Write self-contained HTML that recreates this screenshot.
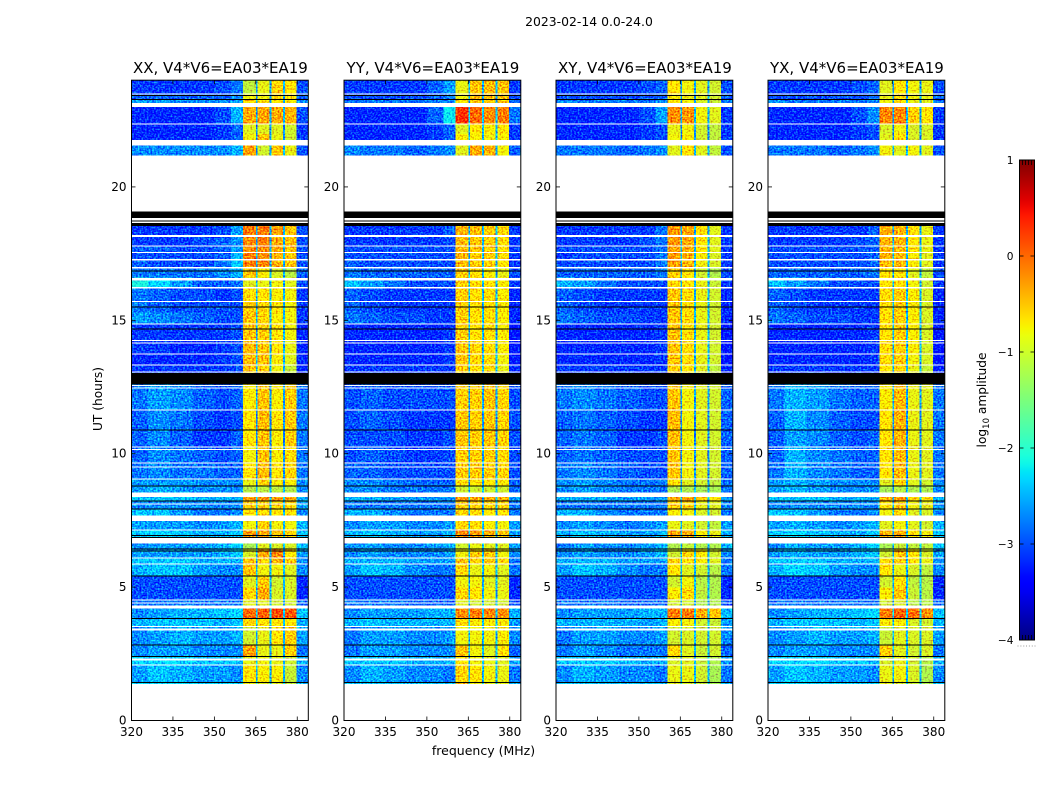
<!DOCTYPE html>
<html lang="en">
<head>
<meta charset="utf-8">
<title>2023-02-14 0.0-24.0</title>
<style>
html,body{margin:0;padding:0;background:#fff;}
svg{display:block;}
text{font-family:"DejaVu Sans","Liberation Sans",sans-serif;fill:#000;}
</style>
</head>
<body>
<svg id="chart" xmlns="http://www.w3.org/2000/svg" width="1050" height="800" viewBox="0 0 1050 800">
  <defs id="defs"></defs>
  <text x="589" y="26" font-size="12.4" text-anchor="middle">2023-02-14 0.0-24.0</text>
  <text x="483.5" y="755" font-size="12.5" text-anchor="middle">frequency (MHz)</text>
  <text x="0" y="0" font-size="12.2" text-anchor="middle" transform="translate(102 399) rotate(-90)">UT (hours)</text>
  <text x="0" y="0" font-size="12.2" text-anchor="middle" transform="translate(986 400) rotate(-90)">log<tspan font-size="8.5" dy="3">10</tspan><tspan dy="-3"> amplitude</tspan></text>
  <g id="panels"></g>
  <g id="colorbar"></g>
</svg>
<script>
// Frequency section edges (MHz) and which value column feeds each section
const freqEdges = [320,326,334,342,350,356,360.4,365,365.6,370,370.6,374.9,375.5,379.7,384];
const sectionColumn = [0,1,2,3,4,5,6,11,7,11,8,11,9,10];

// UT row edges (hours), top to bottom
const utEdges = [24,23.47,23.29,22.99,22.35,21.99,21.75,21.18,18.53,18.13,17.81,17.55,17.25,16.95,16.61,16.24,15.71,15.3,14.85,14.25,13.72,13.31,13.02,12.59,11.66,10.91,10.24,9.67,9.07,8.78,8.55,8.21,7.95,7.69,7.13,6.86,6.45,6.11,5.85,5.44,4.99,4.54,4.2,3.84,3.53,2.85,2.4,2.1,1.43,1.375];

// Flagged rows shared by all panels: [UT start, UT end]
const whiteBands = [[23.475,23.51],[22.99,23.14],[22.35,22.385],[21.56,21.75],[18.13,18.19],[17.775,17.81],[17.53,17.57],[17.25,17.29],[16.95,16.99],[16.5,16.59],[16.2,16.24],[15.69,15.73],[14.85,14.89],[14.23,14.27],[14.14,14.175],[13.725,13.76],[13.31,13.35],[13.05,13.09],[12.55,12.58],[12.45,12.49],[11.625,11.66],[10.24,10.275],[10.14,10.18],[9.64,9.675],[9.49,9.525],[9.04,9.075],[8.37,8.55],[8.10,8.14],[7.47,7.69],[7.125,7.16],[6.64,6.84],[6.075,6.11],[5.85,5.89],[4.5,4.54],[4.39,4.425],[4.2,4.31],[3.51,3.54],[3.375,3.45],[2.25,2.325],[2.06,2.1]];
const blackBands = [[23.4,23.44],[23.25,23.29],[18.84,19.08],[18.71,18.75],[18.53,18.64],[16.84,16.865],[15.49,15.525],[14.66,14.7],[12.59,13.02],[10.875,10.91],[8.78,8.81],[8.21,8.25],[7.91,7.95],[6.92,6.96],[6.84,6.88],[6.41,6.45],[6.34,6.375],[5.4,5.44],[3.81,3.84],[2.81,2.85],[2.38,2.42],[1.41,1.44]];

// log10 amplitude per row: 320-326,326-334,334-342,342-350,350-356,356-360.4, block A,B,C,D, 380-384, notch
const amplitudeXX = [
[-3.1,-3.1,-3.1,-3.1,-3.0,-2.8,-1.1,-.85,-.6,-.7,-3.0,-2.6],
[-2.9,-2.9,-2.9,-2.9,-2.9,-2.7,-.8,-.8,-.6,-.7,-2.9,-2.6],
[-2.6,-2.6,-2.7,-2.7,-2.7,-2.6,-.6,-.7,-.7,-.75,-2.7,-2.6],
[-3.2,-3.2,-3.2,-3.2,-3.0,-2.5,-.35,-.3,-.35,-.4,-3.0,-2.5],
[-3.2,-3.2,-3.2,-3.2,-3.1,-2.9,-.9,-.9,-.9,-1.0,-3.1,-2.7],
[-3.2,-3.2,-3.2,-3.2,-3.1,-2.9,-.8,-.5,-.85,-1.0,-3.1,-2.7],
[-2.7,-2.7,-2.7,-2.7,-2.7,-2.5,-.3,-1.0,-.5,-.85,-3.0,-2.5],
null,
[-3.1,-3.1,-3.1,-3.1,-3.0,-2.6,-.1,-.1,-.3,-.5,-3.0,-2.5],
[-3.1,-3.1,-3.1,-3.0,-2.9,-2.7,-.2,-.1,-.35,-.45,-3.0,-2.5],
[-2.9,-2.9,-3.0,-3.0,-2.9,-2.6,-.2,-.2,-.35,-.5,-3.0,-2.5],
[-3.0,-3.0,-3.0,-3.0,-2.9,-2.5,-.1,-.2,-.4,-.5,-3.0,-2.5],
[-2.9,-3.0,-3.0,-3.0,-2.8,-2.4,-.15,-.15,-.4,-.5,-3.0,-2.5],
[-2.8,-2.8,-2.8,-2.8,-2.7,-2.5,-.5,-.75,-.95,-1.15,-2.9,-2.5],
[-2.1,-2.3,-2.6,-2.9,-2.9,-2.8,-.9,-.85,-.8,-.9,-3.0,-2.5],
[-2.8,-2.9,-3.0,-3.0,-3.1,-3.0,-.65,-.7,-.75,-.8,-3.1,-2.5],
[-2.8,-2.9,-3.0,-3.0,-3.0,-3.0,-.55,-.6,-.7,-.8,-3.1,-2.5],
[-2.6,-2.7,-2.8,-2.9,-3.0,-3.0,-.5,-.6,-.75,-.8,-3.1,-2.5],
[-3.1,-3.1,-3.1,-3.1,-3.1,-3.0,-.5,-.55,-.7,-.8,-3.2,-2.5],
[-3.1,-3.1,-3.2,-3.2,-3.1,-3.0,-.45,-.5,-.7,-.85,-3.2,-2.5],
[-3.2,-3.2,-3.2,-3.2,-3.1,-3.0,-.45,-.5,-.75,-.9,-3.2,-2.5],
[-3.1,-3.1,-3.1,-3.1,-3.1,-3.0,-.5,-.55,-.8,-1.05,-3.2,-2.5],
null,
[-2.8,-2.6,-2.7,-2.9,-3.0,-2.9,-.75,-.5,-.75,-.55,-2.8,-2.6],
[-2.9,-2.7,-2.8,-3.0,-3.1,-3.0,-.7,-.45,-.7,-.55,-2.8,-2.7],
[-2.9,-2.7,-2.9,-3.1,-3.1,-2.9,-.7,-.5,-.75,-.55,-2.8,-2.7],
[-2.9,-2.7,-2.8,-2.9,-3.0,-2.9,-.8,-.5,-.75,-.65,-2.8,-2.7],
[-2.8,-2.7,-2.8,-2.8,-2.9,-2.9,-.7,-.45,-.7,-.6,-2.8,-2.7],
[-2.6,-2.6,-2.6,-2.7,-2.7,-2.7,-.85,-.6,-.75,-.75,-2.7,-2.6],
[-2.6,-2.5,-2.6,-2.7,-2.7,-2.7,-1.15,-1.1,-1.1,-1.15,-2.7,-2.5],
[-2.4,-2.4,-2.4,-2.5,-2.5,-2.5,-.3,-.25,-.3,-.35,-2.5,-2.4],
[-2.7,-2.7,-2.7,-2.7,-2.7,-2.7,-.55,-.55,-.6,-.65,-2.6,-2.5],
[-2.4,-2.4,-2.6,-2.8,-2.8,-2.7,-.7,-.65,-.7,-.7,-2.7,-2.5],
[-2.6,-2.6,-2.6,-2.7,-2.6,-2.5,-.8,-.55,-.8,-.8,-2.5,-2.5],
[-2.4,-2.3,-2.4,-2.5,-2.5,-2.4,-.25,-.3,-.5,-.6,-2.4,-2.4],
[-2.7,-2.6,-2.6,-2.6,-2.5,-2.3,-1.25,-.9,-.95,-.95,-2.4,-2.5],
[-2.6,-2.6,-2.6,-2.6,-2.5,-2.4,-.95,-.35,-.15,-.7,-2.6,-2.5],
[-2.4,-2.4,-2.4,-2.5,-2.5,-2.5,-.5,-.6,-.4,-.55,-2.7,-2.5],
[-2.5,-2.4,-2.4,-2.6,-2.7,-2.7,-.5,-.8,-.8,-.9,-2.7,-2.5],
[-3.0,-3.0,-3.0,-3.0,-3.0,-3.0,-.9,-.55,-1.0,-.95,-3.2,-2.5],
[-3.0,-3.0,-3.0,-3.0,-3.0,-3.0,-.6,-.35,-.95,-.95,-3.2,-2.5],
[-2.8,-2.8,-2.8,-2.8,-2.8,-2.8,-.9,-.9,-1.0,-1.0,-2.9,-2.6],
[-2.7,-2.6,-2.5,-2.5,-2.4,-2.3,0,.05,.15,.1,-2.4,-2.3],
[-2.5,-2.4,-2.4,-2.4,-2.5,-2.4,-.6,-.7,-.7,-.7,-2.5,-2.4],
[-2.7,-2.6,-2.5,-2.6,-2.6,-2.5,-1.0,-.85,-.7,-.55,-2.6,-2.5],
[-2.7,-2.6,-2.6,-2.7,-2.7,-2.7,-.3,-.85,-.85,-.55,-2.8,-2.5],
[-2.3,-2.3,-2.3,-2.4,-2.4,-2.4,-.85,-.8,-.85,-1.0,-2.5,-2.4],
[-2.6,-2.4,-2.5,-2.6,-2.6,-2.7,-.7,-.75,-.75,-1.05,-2.7,-2.5],
[-2.3,-2.3,-2.3,-2.3,-2.3,-2.3,-.8,-.9,-.9,-1.05,-2.4,-2.4]
];
const amplitudeYY = [
[-3.1,-3.1,-3.1,-3.1,-2.9,-2.6,-.85,-.5,-.45,-.5,-3.1,-2.5],
[-3.0,-3.0,-3.0,-3.0,-2.9,-2.8,-.8,-.45,-.45,-.5,-3.0,-2.5],
[-2.8,-2.8,-2.8,-2.8,-2.8,-2.7,-.7,-.5,-.5,-.5,-2.9,-2.5],
[-3.2,-3.2,-3.2,-3.2,-2.9,-2.2,.3,.0,-.2,-.1,-2.8,-2.4],
[-3.2,-3.2,-3.2,-3.2,-3.1,-2.9,-.9,-.7,-.75,-.7,-3.1,-2.5],
[-3.2,-3.2,-3.2,-3.2,-3.1,-2.9,-.75,-.75,-.8,-.75,-3.1,-2.5],
[-2.7,-2.8,-2.8,-2.9,-2.8,-2.7,-.9,-.35,-.4,-.8,-2.9,-2.5],
null,
[-3.1,-3.1,-3.1,-3.1,-3.1,-2.9,-.4,-.45,-.55,-.65,-3.1,-2.5],
[-3.1,-3.1,-3.1,-3.1,-3.1,-3.0,-.45,-.5,-.55,-.65,-3.1,-2.5],
[-3.0,-3.0,-3.0,-3.0,-3.0,-3.0,-.4,-.5,-.55,-.65,-3.1,-2.5],
[-3.0,-3.0,-3.0,-3.0,-3.0,-3.0,-.4,-.55,-.55,-.65,-3.1,-2.5],
[-2.9,-3.0,-3.0,-3.0,-3.0,-3.0,-.45,-.55,-.6,-.7,-3.1,-2.5],
[-2.8,-2.9,-2.9,-2.9,-2.9,-2.9,-.55,-.65,-.75,-.85,-3.0,-2.5],
[-2.4,-2.6,-2.8,-3.0,-3.0,-3.0,-.55,-.65,-.7,-.75,-3.1,-2.5],
[-2.9,-3.0,-3.1,-3.1,-3.1,-3.1,-.55,-.65,-.65,-.75,-3.2,-2.5],
[-2.9,-3.0,-3.1,-3.1,-3.1,-3.1,-.55,-.65,-.65,-.75,-3.2,-2.5],
[-2.8,-2.9,-3.0,-3.0,-3.1,-3.1,-.55,-.65,-.65,-.75,-3.2,-2.5],
[-3.2,-3.2,-3.2,-3.2,-3.2,-3.1,-.55,-.65,-.65,-.75,-3.3,-2.5],
[-3.2,-3.2,-3.2,-3.2,-3.2,-3.1,-.5,-.6,-.65,-.75,-3.3,-2.5],
[-3.2,-3.2,-3.2,-3.2,-3.2,-3.1,-.5,-.6,-.65,-.8,-3.3,-2.5],
[-3.1,-3.1,-3.1,-3.1,-3.1,-3.1,-.55,-.65,-.65,-.85,-3.2,-2.5],
null,
[-3.0,-2.9,-3.0,-3.0,-3.0,-3.0,-.55,-.55,-.5,-.6,-3.0,-2.6],
[-3.0,-2.9,-3.0,-3.1,-3.1,-3.1,-.5,-.55,-.5,-.6,-3.0,-2.6],
[-3.0,-3.0,-3.0,-3.1,-3.1,-3.0,-.5,-.55,-.5,-.6,-3.0,-2.6],
[-3.0,-2.9,-3.0,-3.1,-3.1,-3.0,-.55,-.55,-.55,-.65,-3.0,-2.6],
[-2.9,-2.9,-3.0,-3.0,-3.0,-3.0,-.55,-.55,-.55,-.6,-3.0,-2.6],
[-2.7,-2.7,-2.8,-2.9,-2.9,-2.9,-.65,-.7,-.7,-.75,-2.9,-2.6],
[-2.7,-2.7,-2.8,-2.8,-2.8,-2.8,-1.0,-1.0,-1.0,-1.0,-2.9,-2.5],
[-2.5,-2.5,-2.6,-2.6,-2.6,-2.6,-.25,-.3,-.35,-.4,-2.6,-2.4],
[-2.8,-2.8,-2.8,-2.8,-2.8,-2.8,-.5,-.55,-.6,-.6,-2.8,-2.5],
[-2.5,-2.5,-2.7,-2.8,-2.8,-2.8,-.6,-.65,-.7,-.7,-2.8,-2.5],
[-2.7,-2.6,-2.6,-2.7,-2.7,-2.6,-.6,-.65,-.75,-.8,-2.6,-2.5],
[-2.5,-2.4,-2.5,-2.6,-2.6,-2.5,-.2,-.3,-.4,-.5,-2.6,-2.4],
[-2.7,-2.6,-2.7,-2.7,-2.6,-2.5,-1.0,-.85,-.9,-.9,-2.6,-2.5],
[-2.7,-2.6,-2.7,-2.7,-2.7,-2.6,-.8,-.55,-.55,-.8,-2.7,-2.5],
[-2.5,-2.5,-2.5,-2.6,-2.6,-2.6,-.5,-.6,-.55,-.6,-2.8,-2.5],
[-2.6,-2.4,-2.5,-2.7,-2.8,-2.8,-.6,-.85,-.8,-.9,-2.8,-2.5],
[-3.0,-3.0,-3.0,-3.0,-3.0,-3.0,-.8,-.8,-.9,-.9,-3.2,-2.5],
[-3.0,-3.0,-3.0,-3.0,-3.0,-3.0,-.6,-.7,-.8,-.85,-3.2,-2.5],
[-2.8,-2.8,-2.8,-2.9,-2.9,-2.9,-.9,-1.0,-1.0,-1.0,-3.0,-2.6],
[-2.7,-2.6,-2.6,-2.6,-2.5,-2.5,-.2,-.1,-.15,-.2,-2.5,-2.4],
[-2.5,-2.4,-2.5,-2.5,-2.5,-2.5,-.65,-.75,-.75,-.75,-2.6,-2.4],
[-2.8,-2.6,-2.6,-2.7,-2.7,-2.6,-.8,-.8,-.8,-.75,-2.7,-2.5],
[-2.8,-2.6,-2.6,-2.7,-2.7,-2.7,-.5,-.8,-.9,-.7,-2.9,-2.5],
[-2.4,-2.4,-2.4,-2.5,-2.5,-2.5,-.7,-.8,-.85,-.9,-2.6,-2.4],
[-2.7,-2.5,-2.6,-2.7,-2.7,-2.8,-.6,-.7,-.8,-.85,-2.8,-2.5],
[-2.4,-2.4,-2.4,-2.4,-2.4,-2.4,-.4,-.8,-.85,-.85,-2.5,-2.4]
];
const amplitudeXY = [
[-3.1,-3.1,-3.1,-3.1,-3.0,-2.9,-.7,-.8,-.9,-1.0,-3.0,-2.6],
[-3.0,-3.0,-3.0,-3.0,-3.0,-2.9,-.75,-.8,-.9,-1.0,-2.9,-2.6],
[-2.7,-2.8,-2.8,-2.8,-2.8,-2.7,-.7,-.8,-.95,-1.05,-2.8,-2.6],
[-3.2,-3.2,-3.2,-3.2,-3.0,-2.6,-.2,-.25,-.8,-.9,-3.1,-2.5],
[-3.2,-3.2,-3.2,-3.2,-3.1,-3.0,-.85,-.8,-1.0,-1.1,-3.1,-2.7],
[-3.2,-3.2,-3.2,-3.2,-3.1,-3.0,-.8,-.75,-1.0,-1.1,-3.1,-2.7],
[-2.8,-2.8,-2.8,-2.9,-2.8,-2.7,-.9,-.7,-.9,-1.1,-3.0,-2.5],
null,
[-3.1,-3.1,-3.1,-3.1,-3.1,-2.8,-.25,-.35,-.65,-.9,-3.1,-2.5],
[-3.1,-3.1,-3.1,-3.1,-3.0,-2.8,-.25,-.35,-.7,-.9,-3.1,-2.5],
[-3.0,-3.0,-3.0,-3.0,-3.0,-2.8,-.3,-.4,-.7,-.9,-3.1,-2.5],
[-3.1,-3.0,-3.0,-3.0,-3.0,-2.8,-.25,-.4,-.75,-.95,-3.1,-2.5],
[-3.0,-3.0,-3.0,-3.0,-3.0,-2.8,-.3,-.45,-.8,-.95,-3.1,-2.5],
[-2.9,-2.9,-2.9,-2.9,-2.9,-2.8,-.55,-.7,-1.0,-1.2,-3.0,-2.5],
[-2.5,-2.6,-2.8,-3.0,-3.0,-3.0,-.6,-.7,-.85,-1.05,-3.1,-2.5],
[-2.9,-3.0,-3.1,-3.1,-3.1,-3.1,-.5,-.65,-.85,-1.0,-3.2,-2.5],
[-2.9,-3.0,-3.1,-3.1,-3.1,-3.1,-.5,-.65,-.85,-1.0,-3.2,-2.5],
[-2.8,-2.9,-3.0,-3.0,-3.1,-3.1,-.5,-.65,-.85,-1.0,-3.2,-2.5],
[-3.2,-3.2,-3.2,-3.2,-3.2,-3.1,-.5,-.65,-.85,-1.0,-3.3,-2.5],
[-3.2,-3.2,-3.2,-3.2,-3.2,-3.1,-.5,-.65,-.85,-1.0,-3.3,-2.5],
[-3.2,-3.2,-3.2,-3.2,-3.2,-3.1,-.5,-.65,-.85,-1.0,-3.3,-2.5],
[-3.1,-3.1,-3.1,-3.1,-3.1,-3.1,-.55,-.7,-.9,-1.1,-3.2,-2.5],
null,
[-2.8,-2.7,-2.8,-2.9,-3.0,-3.0,-.5,-.8,-.9,-1.0,-2.9,-2.6],
[-2.9,-2.8,-2.9,-3.0,-3.1,-3.1,-.45,-.8,-.9,-1.0,-2.9,-2.7],
[-2.9,-2.8,-2.9,-3.1,-3.1,-3.0,-.45,-.8,-.9,-1.0,-2.9,-2.7],
[-2.9,-2.8,-2.9,-3.0,-3.0,-3.0,-.5,-.8,-.9,-1.0,-2.9,-2.7],
[-2.8,-2.7,-2.8,-2.9,-3.0,-3.0,-.5,-.8,-.9,-1.0,-2.9,-2.7],
[-2.7,-2.6,-2.7,-2.8,-2.8,-2.8,-.7,-.9,-1.0,-1.1,-2.8,-2.6],
[-2.7,-2.6,-2.7,-2.8,-2.8,-2.8,-1.2,-1.2,-1.25,-1.25,-2.8,-2.5],
[-2.5,-2.5,-2.5,-2.6,-2.6,-2.6,-.35,-.3,-.55,-.7,-2.6,-2.4],
[-2.8,-2.8,-2.8,-2.8,-2.8,-2.8,-.6,-.6,-.85,-.9,-2.7,-2.5],
[-2.5,-2.5,-2.7,-2.8,-2.8,-2.8,-.75,-.8,-.95,-1.0,-2.8,-2.5],
[-2.7,-2.6,-2.7,-2.8,-2.7,-2.6,-.85,-.9,-1.0,-1.1,-2.6,-2.5],
[-2.5,-2.4,-2.5,-2.6,-2.6,-2.5,-.35,-.4,-.75,-.85,-2.5,-2.4],
[-2.8,-2.6,-2.7,-2.7,-2.6,-2.5,-1.2,-1.1,-1.2,-1.2,-2.5,-2.5],
[-2.7,-2.6,-2.7,-2.7,-2.6,-2.5,-1.0,-.6,-.75,-1.0,-2.7,-2.5],
[-2.5,-2.5,-2.5,-2.6,-2.6,-2.6,-.6,-.7,-.75,-.9,-2.8,-2.5],
[-2.6,-2.4,-2.5,-2.7,-2.8,-2.8,-.7,-.9,-1.0,-1.15,-2.8,-2.5],
[-3.0,-3.0,-3.0,-3.0,-3.0,-3.0,-1.0,-.8,-1.15,-1.2,-3.2,-2.5],
[-3.0,-3.0,-3.0,-3.0,-3.0,-3.0,-.75,-.65,-1.1,-1.2,-3.2,-2.5],
[-2.8,-2.8,-2.8,-2.9,-2.9,-2.9,-1.0,-1.0,-1.2,-1.2,-3.0,-2.6],
[-2.7,-2.6,-2.6,-2.6,-2.5,-2.5,-.1,-.1,-.35,-.5,-2.5,-2.3],
[-2.5,-2.5,-2.5,-2.5,-2.6,-2.5,-.75,-.8,-1.0,-1.05,-2.6,-2.4],
[-2.8,-2.6,-2.6,-2.7,-2.7,-2.6,-1.0,-.95,-1.0,-1.0,-2.7,-2.5],
[-2.8,-2.6,-2.7,-2.8,-2.8,-2.8,-.6,-.9,-1.05,-1.0,-2.9,-2.5],
[-2.4,-2.4,-2.4,-2.5,-2.5,-2.5,-.95,-.9,-1.05,-1.2,-2.6,-2.4],
[-2.7,-2.5,-2.6,-2.7,-2.7,-2.8,-.85,-.85,-1.0,-1.25,-2.8,-2.5],
[-2.4,-2.4,-2.4,-2.4,-2.4,-2.4,-.9,-.95,-1.05,-1.25,-2.5,-2.4]
];
const amplitudeYX = [
[-3.1,-3.1,-3.1,-3.1,-3.0,-2.9,-.9,-.7,-.8,-.85,-3.0,-2.6],
[-3.0,-3.0,-3.0,-3.0,-3.0,-2.9,-.85,-.65,-.8,-.85,-2.9,-2.6],
[-2.7,-2.8,-2.8,-2.8,-2.8,-2.7,-.8,-.7,-.85,-.9,-2.8,-2.6],
[-3.2,-3.2,-3.2,-3.2,-3.0,-2.7,-.15,-.15,-.55,-.7,-3.1,-2.5],
[-3.2,-3.2,-3.2,-3.2,-3.1,-3.0,-.95,-.8,-.95,-.95,-3.1,-2.7],
[-3.2,-3.2,-3.2,-3.2,-3.1,-3.0,-.9,-.7,-.95,-.95,-3.1,-2.7],
[-2.8,-2.8,-2.8,-2.9,-2.8,-2.7,-.8,-.9,-.8,-.9,-3.0,-2.5],
null,
[-3.1,-3.1,-3.1,-3.1,-3.1,-2.9,-.35,-.4,-.65,-.85,-3.1,-2.5],
[-3.1,-3.1,-3.1,-3.1,-3.0,-2.9,-.4,-.4,-.7,-.85,-3.1,-2.5],
[-3.0,-3.0,-3.0,-3.0,-3.0,-2.9,-.4,-.45,-.7,-.85,-3.1,-2.5],
[-3.0,-3.0,-3.0,-3.0,-3.0,-2.9,-.4,-.45,-.75,-.9,-3.1,-2.5],
[-3.0,-3.0,-3.0,-3.0,-3.0,-2.9,-.45,-.45,-.75,-.9,-3.1,-2.5],
[-2.9,-2.9,-2.9,-2.9,-2.9,-2.8,-.7,-.7,-.9,-1.1,-3.0,-2.5],
[-2.4,-2.6,-2.8,-3.0,-3.0,-3.0,-.7,-.65,-.8,-1.0,-3.1,-2.5],
[-2.9,-3.0,-3.1,-3.1,-3.1,-3.1,-.65,-.55,-.75,-.95,-3.2,-2.5],
[-2.9,-3.0,-3.1,-3.1,-3.1,-3.1,-.65,-.55,-.75,-.95,-3.2,-2.5],
[-2.8,-2.9,-3.0,-3.0,-3.1,-3.1,-.65,-.55,-.75,-.95,-3.2,-2.5],
[-3.2,-3.2,-3.2,-3.2,-3.2,-3.1,-.65,-.55,-.75,-.95,-3.3,-2.5],
[-3.2,-3.2,-3.2,-3.2,-3.2,-3.1,-.65,-.55,-.75,-.95,-3.3,-2.5],
[-3.2,-3.2,-3.2,-3.2,-3.2,-3.1,-.65,-.55,-.8,-.95,-3.3,-2.5],
[-3.1,-3.1,-3.1,-3.1,-3.1,-3.1,-.7,-.6,-.85,-1.05,-3.2,-2.5],
null,
[-2.8,-2.5,-2.6,-2.8,-2.9,-2.9,-.75,-.45,-.85,-.9,-2.8,-2.6],
[-2.9,-2.5,-2.7,-2.9,-3.0,-3.0,-.7,-.4,-.85,-.9,-2.8,-2.7],
[-2.9,-2.6,-2.7,-2.9,-3.0,-2.9,-.7,-.4,-.85,-.9,-2.8,-2.7],
[-2.9,-2.5,-2.7,-2.8,-2.9,-2.9,-.7,-.45,-.85,-.9,-2.8,-2.7],
[-2.8,-2.5,-2.7,-2.8,-2.9,-2.9,-.7,-.45,-.85,-.9,-2.8,-2.7],
[-2.6,-2.5,-2.6,-2.7,-2.7,-2.7,-.9,-.6,-.9,-1.0,-2.7,-2.6],
[-2.6,-2.5,-2.6,-2.7,-2.7,-2.7,-1.25,-1.15,-1.2,-1.2,-2.7,-2.5],
[-2.4,-2.4,-2.4,-2.5,-2.5,-2.5,-.4,-.25,-.55,-.65,-2.5,-2.4],
[-2.7,-2.7,-2.7,-2.7,-2.7,-2.7,-.7,-.5,-.8,-.85,-2.6,-2.5],
[-2.4,-2.4,-2.6,-2.8,-2.8,-2.7,-.8,-.65,-.9,-.95,-2.7,-2.5],
[-2.6,-2.5,-2.6,-2.7,-2.6,-2.5,-.9,-.8,-.9,-1.0,-2.5,-2.5],
[-2.4,-2.3,-2.4,-2.5,-2.5,-2.4,-.4,-.35,-.7,-.8,-2.4,-2.4],
[-2.7,-2.5,-2.6,-2.6,-2.5,-2.3,-1.25,-1.05,-1.1,-1.1,-2.4,-2.5],
[-2.6,-2.5,-2.6,-2.6,-2.5,-2.4,-1.0,-.5,-.7,-.95,-2.6,-2.5],
[-2.4,-2.4,-2.4,-2.5,-2.5,-2.5,-.65,-.6,-.7,-.85,-2.7,-2.5],
[-2.5,-2.3,-2.4,-2.6,-2.7,-2.7,-.7,-.85,-.95,-1.1,-2.7,-2.5],
[-3.0,-3.0,-3.0,-3.0,-3.0,-3.0,-1.0,-.7,-1.1,-1.15,-3.2,-2.5],
[-3.0,-3.0,-3.0,-3.0,-3.0,-3.0,-.75,-.5,-1.05,-1.15,-3.2,-2.5],
[-2.8,-2.8,-2.8,-2.8,-2.8,-2.8,-1.0,-.95,-1.15,-1.15,-2.9,-2.6],
[-2.7,-2.6,-2.5,-2.5,-2.4,-2.3,-.1,.05,0,-.2,-2.4,-2.3],
[-2.5,-2.4,-2.4,-2.4,-2.5,-2.4,-.75,-.75,-.95,-1.0,-2.5,-2.4],
[-2.7,-2.6,-2.5,-2.6,-2.6,-2.5,-1.05,-.9,-.95,-.95,-2.6,-2.5],
[-2.7,-2.6,-2.6,-2.7,-2.7,-2.7,-.55,-.9,-1.0,-.95,-2.8,-2.5],
[-2.3,-2.3,-2.3,-2.4,-2.4,-2.4,-.95,-.85,-1.0,-1.15,-2.5,-2.4],
[-2.6,-2.4,-2.5,-2.6,-2.6,-2.7,-.85,-.8,-.95,-1.2,-2.7,-2.5],
[-2.3,-2.3,-2.3,-2.3,-2.3,-2.3,-.85,-.95,-1.05,-1.2,-2.4,-2.4]
];

// Axis labels
const panelTitles = ["XX, V4*V6=EA03*EA19","YY, V4*V6=EA03*EA19","XY, V4*V6=EA03*EA19","YX, V4*V6=EA03*EA19"];
const panelSeries = [amplitudeXX, amplitudeYY, amplitudeXY, amplitudeYX];
const panelKeys = ["xx","yy","xy","yx"];
const freqTicks = [320,335,350,365,380];
const utTicks = [0,5,10,15,20];
const colorbarTicks = [1,0,-1,-2,-3,-4];

const SVGNS = "http://www.w3.org/2000/svg";
const panelLefts = [131.5,344,556,768];
const panelWidth = 176.8, panelTop = 80.2, panelBottom = 720.5;
const cbLeft = 1019.5, cbRight = 1034.5, cbTop = 160, cbBottom = 640;

function make(tag, attrs, parent){
  const el = document.createElementNS(SVGNS, tag);
  for (const k in attrs) el.setAttribute(k, attrs[k]);
  parent.appendChild(el);
  return el;
}
function scaleUT(h){ return panelBottom - (h/24)*(panelBottom-panelTop); }
function scaleFreq(f, left){ return left + ((f-320)/64)*panelWidth; }
function scaleLog(v){ return cbBottom - ((v+4)/5)*(cbBottom-cbTop); }
function ramp(t, pts){
  for (let i=1;i<pts.length;i++){
    if (t<=pts[i][0]){
      const a=pts[i-1], b=pts[i];
      return a[1]+(b[1]-a[1])*(t-a[0])/(b[0]-a[0]);
    }
  }
  return pts[pts.length-1][1];
}
function jet(v){
  const t = Math.max(0, Math.min(1, (v+4)/5));
  const r = ramp(t, [[0,0],[.35,0],[.66,1],[.89,1],[1,.5]]);
  const g = ramp(t, [[0,0],[.125,0],[.375,1],[.64,1],[.91,0],[1,0]]);
  const b = ramp(t, [[0,.5],[.11,1],[.34,1],[.65,0],[1,0]]);
  return "rgb("+Math.round(r*255)+","+Math.round(g*255)+","+Math.round(b*255)+")";
}

const defs = document.getElementById("defs");
const panelsRoot = document.getElementById("panels");

panelLefts.forEach(function(left, p){
  // speckle texture applied over the heatmap fill (visual grain only), limited to painted cells
  const filter = make("filter", {id:"speckle"+p, filterUnits:"userSpaceOnUse", x:0, y:0, width:1050, height:800, "color-interpolation-filters":"sRGB"}, defs);
  make("feTurbulence", {type:"fractalNoise", baseFrequency:"0.55 0.62", numOctaves:1, seed:p*7+3, result:"n"}, filter);
  make("feColorMatrix", {in:"n", type:"matrix", values:"0.3 0 0 0 0.35  1.7 0 0 0 -0.35  0 0 0 0 0.5  0 0 0 0 1", result:"g"}, filter);
  make("feComposite", {in:"SourceGraphic", in2:"g", operator:"arithmetic", k1:0, k2:1, k3:1, k4:-0.5, result:"mix"}, filter);
  make("feComposite", {in:"mix", in2:"SourceAlpha", operator:"in"}, filter);

  const clip = make("clipPath", {id:"clip"+p}, defs);
  make("rect", {x:left, y:panelTop, width:panelWidth, height:panelBottom-panelTop}, clip);

  const panel = make("g", {}, panelsRoot);
  
  

  const cells = make("g", {filter:"url(#speckle"+p+")", "shape-rendering":"crispEdges", "clip-path":"url(#clip"+p+")"}, panel);
  
  

  panelSeries[p].forEach(function(row, r){
    if (!row) return;
    const y0 = scaleUT(utEdges[r]), y1 = scaleUT(utEdges[r+1]);
    sectionColumn.forEach(function(col, s){
      const x0 = scaleFreq(freqEdges[s], left), x1 = scaleFreq(freqEdges[s+1], left);
      const cell = make("rect", {x:x0.toFixed(2), y:y0.toFixed(2), width:(x1-x0).toFixed(2), height:(y1-y0).toFixed(2), fill:jet(row[col])}, cells);
      
      
    });
  });

  const stripes = make("g", {"shape-rendering":"crispEdges"}, panel);
  
  
  whiteBands.forEach(function(b){
    const band = make("rect", {x:left, y:scaleUT(b[1]).toFixed(2), width:panelWidth, height:Math.max(1,scaleUT(b[0])-scaleUT(b[1])).toFixed(2), fill:"#fff"}, stripes);
    
    
  });
  blackBands.forEach(function(b){
    const band = make("rect", {x:left, y:scaleUT(b[1]).toFixed(2), width:panelWidth, height:Math.max(1,scaleUT(b[0])-scaleUT(b[1])).toFixed(2), fill:"#000"}, stripes);
    
    
  });

  const frame = make("rect", {x:left, y:panelTop, width:panelWidth, height:panelBottom-panelTop, fill:"none", stroke:"#000", "stroke-width":1}, panel);
  
  

  freqTicks.forEach(function(f){
    const x = scaleFreq(f, left);
    const bt = make("line", {x1:x, x2:x, y1:panelBottom, y2:panelBottom-4, stroke:"#000", "stroke-width":0.8}, panel);
    
    
    const tt = make("line", {x1:x, x2:x, y1:panelTop, y2:panelTop+4, stroke:"#000", "stroke-width":0.8}, panel);
    
    
    const lab = make("text", {x:x, y:736, "font-size":12, "text-anchor":"middle"}, panel);
    
    
    lab.textContent = f;
  });
  utTicks.forEach(function(h){
    const y = scaleUT(h);
    const lt = make("line", {x1:left, x2:left+4, y1:y, y2:y, stroke:"#000", "stroke-width":0.8}, panel);
    
    
    const rt = make("line", {x1:left+panelWidth, x2:left+panelWidth-4, y1:y, y2:y, stroke:"#000", "stroke-width":0.8}, panel);
    
    
    const lab = make("text", {x:left-5, y:y+4, "font-size":12, "text-anchor":"end"}, panel);
    
    
    lab.textContent = h;
  });
  const title = make("text", {x:left+panelWidth/2+0.5, y:73, "font-size":15, "text-anchor":"middle"}, panel);
  
  
  title.textContent = panelTitles[p];
});

// Colorbar
const cbRoot = document.getElementById("colorbar");
const grad = make("linearGradient", {id:"jetGrad", x1:0, y1:1, x2:0, y2:0}, defs);
const gradientStops = 60;
for (let i=0;i<=gradientStops;i++){
  make("stop", {offset:(i/gradientStops), "stop-color":jet(-4+5*i/gradientStops)}, grad);
}
const cbBar = make("rect", {x:cbLeft, y:cbTop, width:cbRight-cbLeft, height:cbBottom-cbTop, fill:"url(#jetGrad)", stroke:"#000", "stroke-width":1}, cbRoot);


colorbarTicks.forEach(function(v){
  const y = scaleLog(v);
  const a = make("line", {x1:cbLeft, x2:cbLeft+4, y1:y, y2:y, stroke:"#000", "stroke-width":0.8}, cbRoot);
  
  
  const b = make("line", {x1:cbRight, x2:cbRight-4, y1:y, y2:y, stroke:"#000", "stroke-width":0.8}, cbRoot);
  
  
  const lab = make("text", {x:1013.5, y:y+3.8, "font-size":10.6, "text-anchor":"end"}, cbRoot);
  
  
  lab.textContent = v < 0 ? "\u2212" + Math.abs(v) : String(v);
});
[0.2,0.4,0.6,0.8].forEach(function(fr){
  const x = cbLeft + fr*(cbRight-cbLeft);
  const t = make("line", {x1:x, x2:x, y1:cbTop, y2:cbTop+5, stroke:"#000", "stroke-width":0.8}, cbRoot);
  
  
  const u = make("line", {x1:x, x2:x, y1:cbBottom, y2:cbBottom-5, stroke:"#000", "stroke-width":0.8}, cbRoot);
  
  
});
[0,0.17,0.34,0.5,0.67,0.84,1].forEach(function(fr){
  const d = make("rect", {x:1017.5+fr*17, y:645.5, width:1, height:1, fill:"#999"}, cbRoot);
  
  
});
</script>
</body>
</html>
